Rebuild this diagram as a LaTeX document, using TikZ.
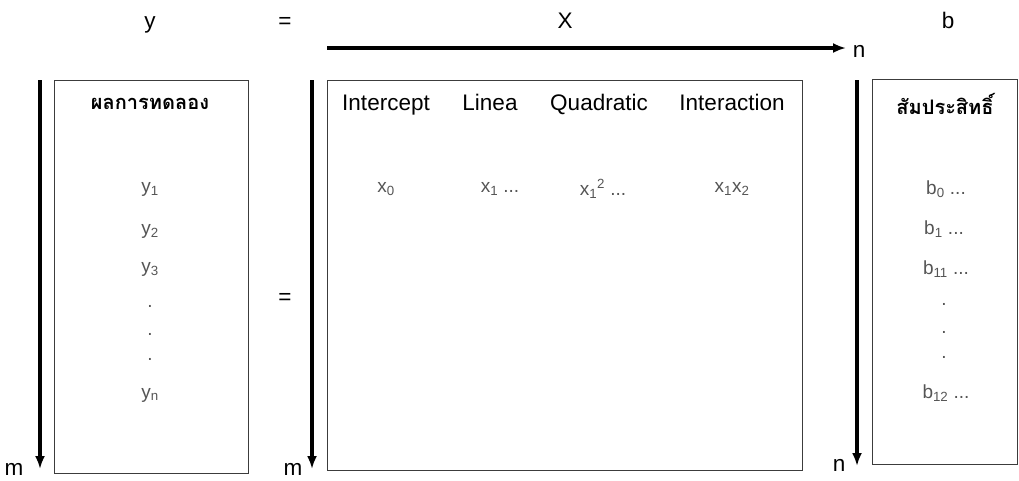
\documentclass[tikz,border=0pt]{standalone}
\usepackage{fontspec}
\setmainfont{Liberation Sans}
\newfontfamily\thaifont[Script=Thai]{Loma}
\usepackage{xcolor}
\usetikzlibrary{arrows.meta,positioning}
\definecolor{valgray}{RGB}{85,85,85}
\definecolor{framegray}{RGB}{60,60,60}

\begin{document}
\begin{tikzpicture}[x=1pt,y=-1pt,
  mbox/.style={draw=framegray,line width=0.9pt,inner sep=0pt},
  axis/.style={-{Latex[length=13pt,width=10pt]},line width=3.4pt},
  head/.style={font=\fontsize{22.5}{24}\selectfont,text height=1.6ex,text depth=0.45ex},
  thhead/.style={font=\thaifont\bfseries\fontsize{20}{22}\selectfont},
  val/.style={font=\fontsize{19}{21}\selectfont,text=valgray}
]
  \useasboundingbox (0,0) rectangle (1019,480);
  % matrix boxes
  \node[mbox,minimum width=194pt,minimum height=393pt] (ybox) at (151,276.5) {};
  \node[mbox,minimum width=475pt,minimum height=390pt] (xbox) at (564.5,275) {};
  \node[mbox,minimum width=145pt,minimum height=385pt] (bbox) at (944.5,271.5) {};
  % titles
  \node[head] (ytitle) at (150,25) {y};
  \node[head] (eqtop) at (285,25) {=};
  \node[head] (xtitle) at (565,25) {X};
  \node[head] (btitle) at (948,25) {b};
  \node[head] (eqmid) at (285,301) {=};
  % axes
  \coordinate (ytop) at (40,80);   \coordinate (ybot) at (40,469);
  \coordinate (xtop) at (312,80);  \coordinate (xbot) at (312,469);
  \coordinate (btop) at (857,80);  \coordinate (bbot) at (857,466);
  \coordinate (xleft) at (327,48); \coordinate (xright) at (846,48);
  \draw[axis] (ytop) -- (ybot);
  \draw[axis] (xtop) -- (xbot);
  \draw[axis] (btop) -- (bbot);
  \draw[axis] (xleft) -- (xright);
  \node[head] (ym) at (14,472) {m};
  \node[head] (xm) at (293,472) {m};
  \node[head] (bn) at (839,468) {n};
  \node[head] (xn) at (859,54) {n};
  % y column
  \node[thhead] (yhead) at (150,104) {ผลการทดลอง};
  \node[val] (y1) at (150,189) {y\textsubscript{1}};
  \node[val] (y2) at (150,231) {y\textsubscript{2}};
  \node[val] (y3) at (150,269) {y\textsubscript{3}};
  \node[val] (yd1) at (150,306) {.};
  \node[val] (yd2) at (150,334) {.};
  \node[val] (yd3) at (150,359) {.};
  \node[val] (yn) at (150,395) {y\textsubscript{n}};
  % X columns
  \node[head] (h1) at (386,107) {Intercept};
  \node[head] (h2) at (490,107) {Linea};
  \node[head] (h3) at (599,107) {Quadratic};
  \node[head] (h4) at (732,107) {Interaction};
  \node[val] (x0) at (386,189) {x\textsubscript{0}};
  \node[val] (x1) at (500,189) {x\textsubscript{1} ...};
  \node[val] (x11) at (603,189) {x\textsubscript{1}\textsuperscript{2} ...};
  \node[val] (x12) at (732,189) {x\textsubscript{1}x\textsubscript{2}};
  % b column
  \node[thhead] (bhead) at (945,104) {สัมประสิทธิ์};
  \node[val] (b0) at (946,189) {b\textsubscript{0} ...};
  \node[val] (b1) at (944,229) {b\textsubscript{1} ...};
  \node[val] (b11) at (946,269) {b\textsubscript{11} ...};
  \node[val] (bd1) at (944,304) {.};
  \node[val] (bd2) at (944,332) {.};
  \node[val] (bd3) at (944,357) {.};
  \node[val] (b12) at (946,393) {b\textsubscript{12} ...};
\end{tikzpicture}
\end{document}
